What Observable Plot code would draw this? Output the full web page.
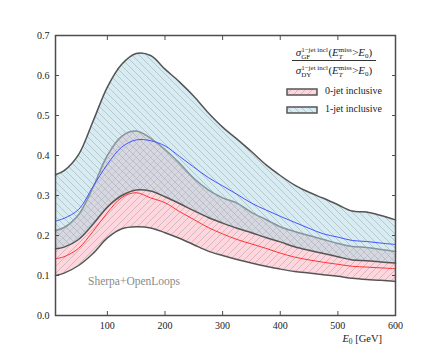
<!DOCTYPE html>
<html>
<head>
<meta charset="utf-8">
<script src="https://cdn.jsdelivr.net/npm/d3@7"></script>
<script src="https://cdn.jsdelivr.net/npm/@observablehq/plot@0.6"></script>
<style>
  body { margin: 0; background: white; }
  #wrap { position: relative; width: 439px; height: 351px; font-family: "Liberation Serif", serif; color: #222; }
  .ov { position: absolute; white-space: nowrap; }
  .i { font-style: italic; }
  .ss { display: inline-flex; flex-direction: column; font-size: 7px; line-height: 6.5px; vertical-align: 4px; margin-right: 0.5px; text-align: left; }
  .row { font-size: 11px; line-height: 16px; height: 16px; }
  .sb { font-size: 7px; vertical-align: -2px; line-height: 0; }
</style>
</head>
<body>
<svg style="position:absolute;width:0;height:0" aria-hidden="true">
  <defs>
    <pattern id="hatch0" patternUnits="userSpaceOnUse" width="7" height="7">
      <path d="M0,7 L7,0 M-1,1 L1,-1 M6,8 L8,6" stroke="#a0a0a0" stroke-width="0.5" fill="none"/>
    </pattern>
    <pattern id="hatch1" patternUnits="userSpaceOnUse" width="7" height="7">
      <path d="M0,0 L7,7 M-1,6 L1,8 M6,-1 L8,1" stroke="#a0a0a0" stroke-width="0.5" fill="none"/>
    </pattern>
  </defs>
</svg>
<div id="wrap">
  <div id="chart"></div>
  <div id="formula" class="ov" style="left:290px;top:44px;width:88px;text-align:center;">
    <div class="row"><span class="i">σ</span><span class="ss"><span>1−jet incl</span><span>GF</span></span>(<span class="i">E</span><span class="ss"><span>miss</span><span class="i">T</span></span>&gt;<span class="i">E</span><span class="sb">0</span>)</div>
    <div style="border-top:0.8px solid #333;margin:0 2px;height:0;"></div>
    <div class="row" style="margin-top:1px"><span class="i">σ</span><span class="ss"><span>1−jet incl</span><span>DY</span></span>(<span class="i">E</span><span class="ss"><span>miss</span><span class="i">T</span></span>&gt;<span class="i">E</span><span class="sb">0</span>)</div>
  </div>
  <svg class="ov" style="left:286px;top:87.5px" width="33" height="8">
    <rect x="1" y="1" width="30" height="6" fill="#ffc0cb" fill-opacity="0.65"/>
    <rect x="1" y="1" width="30" height="6" fill="url(#hatch0)" stroke="#555" stroke-width="1.5"/>
  </svg>
  <div class="ov" style="left:325px;top:85px;font-size:10px;line-height:12px;">0-jet inclusive</div>
  <svg class="ov" style="left:286px;top:105.5px" width="33" height="8">
    <rect x="1" y="1" width="30" height="6" fill="#add8e6" fill-opacity="0.5"/>
    <rect x="1" y="1" width="30" height="6" fill="url(#hatch1)" stroke="#555" stroke-width="1.5"/>
  </svg>
  <div class="ov" style="left:325px;top:103px;font-size:10px;line-height:12px;">1-jet inclusive</div>
  <div class="ov" style="left:88px;top:274px;font-size:11.5px;line-height:14px;color:#8a8a8a;">Sherpa+OpenLoops</div>
  <div class="ov" style="right:57px;top:332px;font-size:10.5px;line-height:14px;"><span class="i">E</span><span class="sb" style="font-size:7.5px">0</span> [GeV]</div>
</div>
<script>
const E0 = [10, 25, 50, 75, 100, 125, 150, 175, 200, 225, 250, 275, 300, 325, 350, 375, 400, 425, 450, 475, 500, 525, 550, 575, 600];
const jet1Upper   = [0.352, 0.362, 0.402, 0.485, 0.571, 0.628, 0.655, 0.650, 0.616, 0.584, 0.548, 0.507, 0.471, 0.441, 0.410, 0.377, 0.350, 0.326, 0.308, 0.293, 0.277, 0.261, 0.259, 0.250, 0.239];
const jet1Central = [0.236, 0.243, 0.265, 0.322, 0.378, 0.421, 0.439, 0.437, 0.424, 0.398, 0.371, 0.345, 0.324, 0.303, 0.281, 0.264, 0.248, 0.233, 0.218, 0.204, 0.196, 0.1875, 0.185, 0.181, 0.1775];
const jet1Lower   = [0.167, 0.171, 0.190, 0.228, 0.271, 0.300, 0.314, 0.311, 0.297, 0.280, 0.262, 0.245, 0.231, 0.218, 0.207, 0.195, 0.184, 0.172, 0.163, 0.155, 0.147, 0.139, 0.137, 0.134, 0.131];
const jet0Upper   = [0.2125, 0.220, 0.252, 0.320, 0.400, 0.448, 0.461, 0.443, 0.415, 0.381, 0.343, 0.314, 0.294, 0.281, 0.258, 0.240, 0.222, 0.210, 0.200, 0.190, 0.180, 0.1725, 0.170, 0.165, 0.160];
const jet0Central = [0.142, 0.147, 0.168, 0.210, 0.257, 0.295, 0.307, 0.294, 0.282, 0.260, 0.240, 0.220, 0.204, 0.190, 0.179, 0.168, 0.156, 0.146, 0.139, 0.133, 0.128, 0.123, 0.121, 0.119, 0.117];
const jet0Lower   = [0.100, 0.106, 0.125, 0.155, 0.194, 0.217, 0.222, 0.219, 0.207, 0.193, 0.177, 0.161, 0.150, 0.140, 0.131, 0.123, 0.116, 0.110, 0.106, 0.102, 0.098, 0.093, 0.090, 0.088, 0.085];
const xTicks = [100, 200, 300, 400, 500, 600];
const yTicks = [0.0, 0.1, 0.2, 0.3, 0.4, 0.5, 0.6, 0.7];

const rows = E0.map((e, i) => ({
  E: e,
  u1: jet1Upper[i], c1: jet1Central[i], l1: jet1Lower[i],
  u0: jet0Upper[i], c0: jet0Central[i], l0: jet0Lower[i]
}));

const curve = "catmull-rom";
const edge = "#555";
const axisColor = "#4d4d4d";

const chart = Plot.plot({
  width: 439,
  height: 351,
  marginLeft: 55,
  marginRight: 44,
  marginTop: 35,
  marginBottom: 36,
  style: { fontFamily: "Liberation Serif, serif", fontSize: "10px", color: "#222", background: "white", overflow: "visible" },
  x: { domain: [10, 600] },
  y: { domain: [0, 0.7] },
  marks: [
    Plot.areaY(rows, { x: "E", y1: "l0", y2: "u0", fill: "#ffc0cb", fillOpacity: 0.65, curve }),
    Plot.areaY(rows, { x: "E", y1: "l0", y2: "u0", fill: "url(#hatch0)", curve }),
    Plot.lineY(rows, { x: "E", y: "l0", stroke: edge, strokeWidth: 1.5, curve }),
    Plot.lineY(rows, { x: "E", y: "u0", stroke: edge, strokeWidth: 1.5, curve }),
    Plot.areaY(rows, { x: "E", y1: "l1", y2: "u1", fill: "#add8e6", fillOpacity: 0.5, curve }),
    Plot.areaY(rows, { x: "E", y1: "l1", y2: "u1", fill: "url(#hatch1)", curve }),
    Plot.lineY(rows, { x: "E", y: "l1", stroke: edge, strokeWidth: 1.5, curve }),
    Plot.lineY(rows, { x: "E", y: "u1", stroke: edge, strokeWidth: 1.5, curve }),
    Plot.lineY(rows, { x: "E", y: "c0", stroke: "#ff3333", strokeWidth: 1, curve }),
    Plot.lineY(rows, { x: "E", y: "c1", stroke: "#4455ff", strokeWidth: 1, curve }),
    Plot.frame({ stroke: axisColor, strokeWidth: 1.5 }),
    Plot.axisX({ anchor: "bottom", ticks: xTicks, tickSize: 0, tickPadding: 6, label: null }),
    Plot.axisX({ anchor: "bottom", ticks: xTicks, tickSize: -4, fill: "none", stroke: axisColor, label: null }),
    Plot.axisX({ anchor: "top", ticks: xTicks, tickSize: -4, fill: "none", stroke: axisColor, label: null }),
    Plot.axisY({ anchor: "left", ticks: yTicks, tickSize: 0, tickPadding: 6, tickFormat: d3.format(".1f"), label: null }),
    Plot.axisY({ anchor: "left", ticks: yTicks, tickSize: -4, fill: "none", stroke: axisColor, label: null }),
    Plot.axisY({ anchor: "right", ticks: yTicks, tickSize: -4, fill: "none", stroke: axisColor, label: null })
  ]
});
document.getElementById("chart").appendChild(chart);
</script>
</body>
</html>
